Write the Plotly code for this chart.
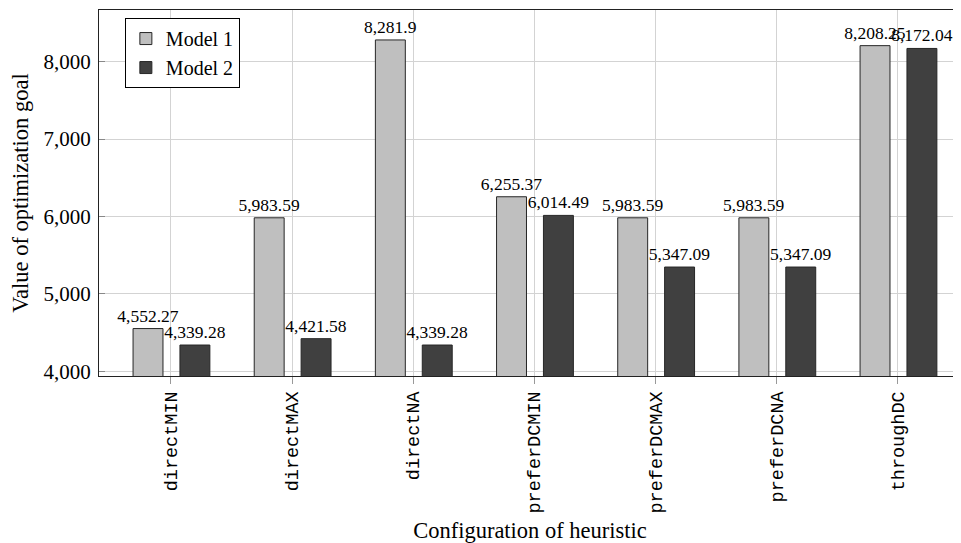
import plotly.graph_objects as go

categories = ["directMIN", "directMAX", "directNA", "preferDCMIN", "preferDCMAX", "preferDCNA", "throughDC"]
model1 = [4552.27, 5983.59, 8281.9, 6255.37, 5983.59, 5983.59, 8208.25]
model2 = [4339.28, 4421.58, 4339.28, 6014.49, 5347.09, 5347.09, 8172.04]
ytick_vals = [4000, 5000, 6000, 7000, 8000]

serif = "Liberation Serif"
mono = "Liberation Mono"

fig = go.Figure()
x_idx = list(range(len(categories)))
for name, vals, color, off in [("Model 1", model1, "#bfbfbf", -0.313),
                               ("Model 2", model2, "#404040", 0.074)]:
    fig.add_trace(go.Bar(
        x=x_idx, y=vals, name=name, width=0.247, offset=off,
        marker=dict(color=color, line=dict(color="#262626", width=1)),
        texttemplate="%{y:,}", textposition="outside", cliponaxis=False,
        constraintext="none",
        textfont=dict(family=serif, size=17.5, color="black"),
    ))

fig.update_layout(
    template="none",
    width=953, height=535,
    margin=dict(l=91, r=0, t=2, b=167, autoexpand=False),
    plot_bgcolor="white", paper_bgcolor="white",
    barmode="overlay",
    showlegend=True,
    legend=dict(x=0.03, y=0.978, xanchor="left", yanchor="top",
                bordercolor="black", borderwidth=1, bgcolor="white",
                font=dict(family=serif, size=20, color="black"),
                tracegroupgap=0, itemwidth=30),
)
fig.update_xaxes(
    range=[-0.594, 6.52], automargin=False,
    tickmode="array", tickvals=x_idx, ticktext=categories,
    tickangle=-90, tickfont=dict(family=mono, size=18.5, color="black"),
    ticks="outside", ticklen=7, tickcolor="#999999", tickwidth=1,
    showgrid=True, gridcolor="#d3d3d3", gridwidth=1,
    showline=True, linecolor="#222222", linewidth=1, mirror=True,
    title=dict(text="Configuration of heuristic", font=dict(family=serif, size=22.5, color="black"), standoff=22),
    zeroline=False,
)
fig.update_yaxes(
    range=[3939, 8669], automargin=False,
    tickmode="array", tickvals=ytick_vals, tickformat=",",
    tickfont=dict(family=serif, size=21, color="black"),
    ticks="inside", ticklen=6, tickcolor="#888888", tickwidth=1,
    ticklabelstandoff=3,
    showgrid=True, gridcolor="#d3d3d3", gridwidth=1,
    showline=True, linecolor="#222222", linewidth=1, mirror=True,
    title=dict(text="Value of optimization goal", font=dict(family=serif, size=22.5, color="black"), standoff=10),
    zeroline=False,
)

fig.write_html("out.html")
